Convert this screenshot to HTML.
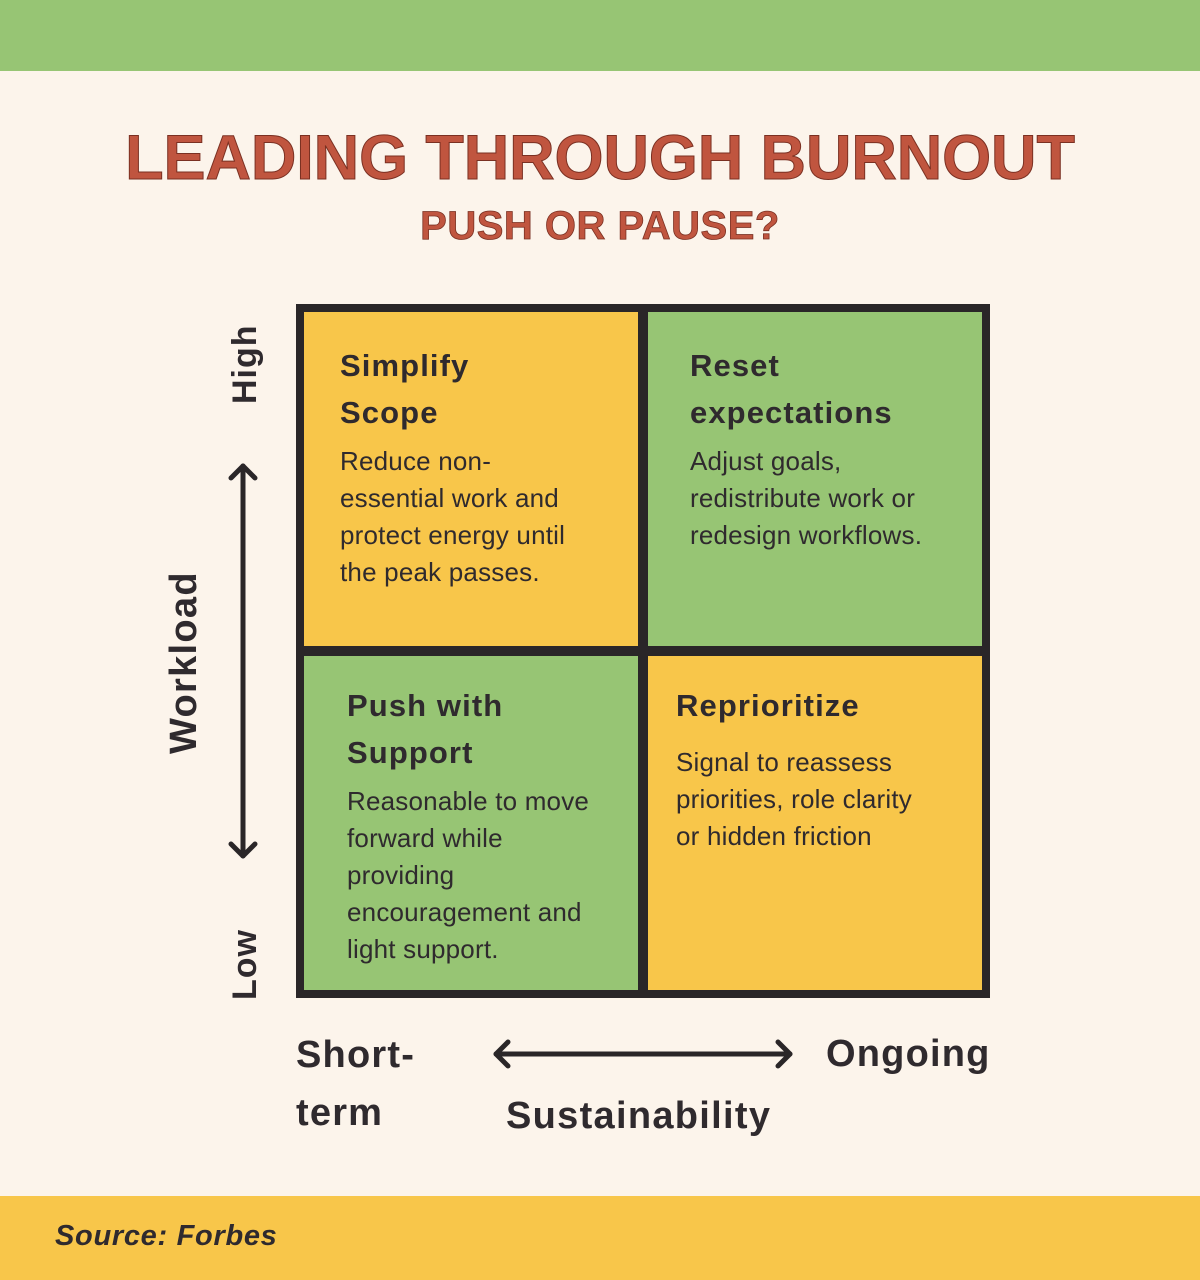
<!DOCTYPE html>
<html><head><style>
body{margin:0;width:1200px;height:1280px;background:#FCF4EB;position:relative;overflow:hidden;font-family:"Liberation Sans",sans-serif;color:#2F2A2E}
.a{position:absolute}
.q{position:absolute;box-sizing:border-box}
.h{font-weight:bold;font-size:31px;line-height:47px;letter-spacing:1.1px}
.t{font-size:26px;line-height:37px;margin-top:7px;letter-spacing:0.2px}
</style></head><body>
<div class="a" style="left:0;top:0;width:1200px;height:71px;background:#97C574"></div>
<div class="a" style="left:0;top:1196px;width:1200px;height:84px;background:#F8C64A"></div>
<div class="a" style="left:55px;top:1220px;font-size:29px;font-style:italic;font-weight:bold;letter-spacing:0.7px">Source: Forbes</div>
<div class="a" style="left:0;width:1200px;top:122px;text-align:center;color:#C0553F;font-weight:bold;font-size:63px;letter-spacing:-0.1px;-webkit-text-stroke:1px #7a3022">LEADING THROUGH BURNOUT</div>
<div class="a" style="left:0;width:1200px;top:204px;text-align:center;color:#C0553F;font-weight:bold;font-size:40px;letter-spacing:0.5px;-webkit-text-stroke:0.8px #7a3022">PUSH OR PAUSE?</div>

<div class="a" style="left:296px;top:304px;width:694px;height:694px;background:#2a2628"></div>
<div class="q" style="left:304px;top:312px;width:334px;height:334px;background:#F8C64A;padding:30px 0 0 36px">
<div class="h">Simplify<br>Scope</div><div class="t">Reduce non-<br>essential work and<br>protect energy until<br>the peak passes.</div></div>
<div class="q" style="left:648px;top:312px;width:334px;height:334px;background:#97C574;padding:30px 0 0 42px">
<div class="h">Reset<br>expectations</div><div class="t">Adjust goals,<br>redistribute work or<br>redesign workflows.</div></div>
<div class="q" style="left:304px;top:656px;width:334px;height:334px;background:#97C574;padding:26px 0 0 43px">
<div class="h">Push with<br>Support</div><div class="t">Reasonable to move<br>forward while<br>providing<br>encouragement and<br>light support.</div></div>
<div class="q" style="left:648px;top:656px;width:334px;height:334px;background:#F8C64A;padding:26px 0 0 28px">
<div class="h">Reprioritize</div><div class="t" style="margin-top:15px">Signal to reassess<br>priorities, role clarity<br>or hidden friction</div></div>

<div class="a" style="left:226px;top:318px;width:40px;height:90px"><div style="transform:rotate(-90deg);transform-origin:0 0;position:absolute;left:0;top:86px;font-weight:bold;font-size:34px;white-space:nowrap;letter-spacing:1px">High</div></div>
<div class="a" style="left:226px;top:920px;width:40px;height:80px"><div style="transform:rotate(-90deg);transform-origin:0 0;position:absolute;left:0;top:80px;font-weight:bold;font-size:34px;white-space:nowrap;letter-spacing:1px">Low</div></div>
<div class="a" style="left:163px;top:558px;"><div style="transform:rotate(-90deg);transform-origin:0 0;position:absolute;left:0;top:196px;font-weight:bold;font-size:38px;white-space:nowrap;letter-spacing:1.3px">Workload</div></div>
<svg class="a" style="left:0;top:0" width="1200" height="1280">
<g stroke="#2a2628" stroke-width="5" fill="none" stroke-linecap="round" stroke-linejoin="round">
<line x1="243" y1="466" x2="243" y2="856"/><polyline points="231,478 243,466 255,478"/><polyline points="231,844 243,856 255,844"/>
<line x1="496" y1="1054" x2="790" y2="1054"/><polyline points="508,1042 496,1054 508,1066"/><polyline points="778,1042 790,1054 778,1066"/>
</g></svg>
<div class="a" style="left:296px;top:1026px;font-weight:bold;font-size:38px;line-height:58px;letter-spacing:1.2px">Short-<br>term</div>
<div class="a" style="left:826px;top:1030px;font-weight:bold;font-size:38px;line-height:48px;letter-spacing:1.2px">Ongoing</div>
<div class="a" style="left:506px;top:1092px;font-weight:bold;font-size:38px;line-height:48px;letter-spacing:1.3px">Sustainability</div>
</body></html>
